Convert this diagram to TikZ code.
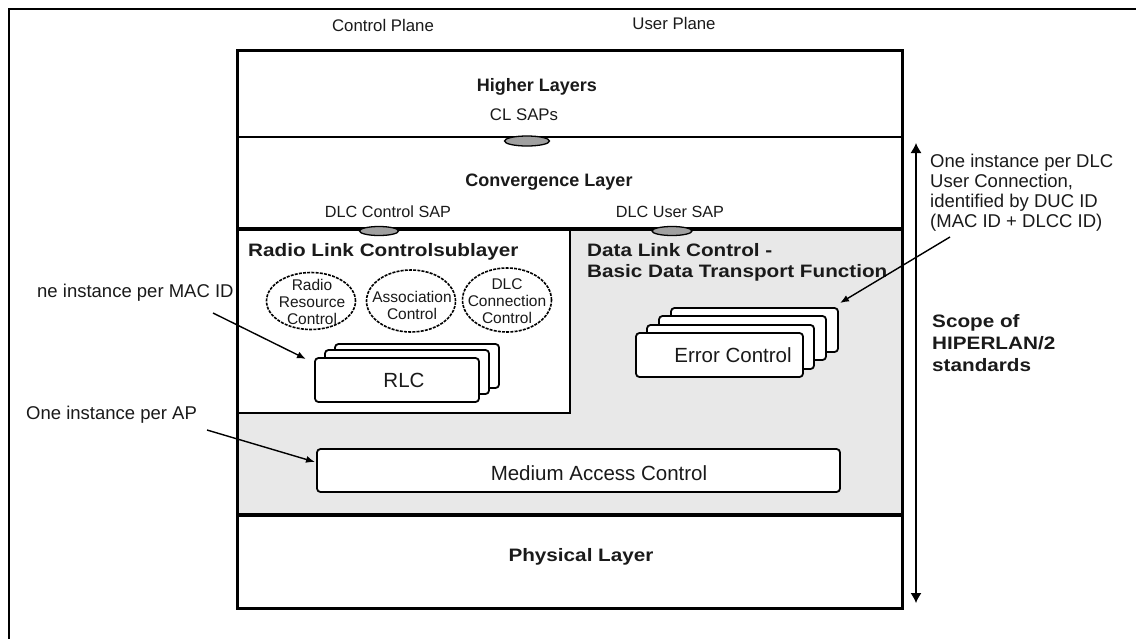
\documentclass[tikz,border=0pt]{standalone}
\usepackage{fontspec}
\setmainfont{Liberation Sans}
\newfontfamily\wideb[FakeStretch=1.15]{Liberation Sans}
\usetikzlibrary{shapes.geometric,arrows.meta}
\definecolor{dlcgray}{HTML}{E8E8E8}
\definecolor{sapgray}{HTML}{A0A0A0}
\definecolor{ink}{HTML}{1A1A1A}
\tikzset{
  txt/.style={inner sep=0, text=ink},
  plane/.style={txt, font=\fontsize{16.8}{19}\selectfont},
  saplbl/.style={txt, font=\fontsize{16.2}{19}\selectfont},
  layerlbl/.style={txt, font=\bfseries\fontsize{18}{21}\selectfont},
  widelbl/.style={txt, font=\wideb\bfseries\fontsize{18}{21.5}\selectfont, align=left},
  annot/.style={txt, font=\fontsize{18.5}{20}\selectfont, align=left},
  boxtxt/.style={txt, font=\fontsize{20.5}{23}\selectfont},
  elltxt/.style={txt, font=\fontsize{15.5}{17}\selectfont, align=center},
  ell/.style={ellipse, draw=black, line width=1.6, dash pattern=on 3pt off 1.2pt, minimum width=89, inner sep=0},
  sap/.style={ellipse, draw=black, fill=sapgray, line width=1.3, inner sep=0},
  stackbox/.style={draw=black, fill=white, rounded corners=3.5, line width=1.8, inner sep=0},
  rlcbox/.style={stackbox, minimum width=164, minimum height=44},
  ecbox/.style={stackbox, minimum width=167, minimum height=44},
  annarrow/.style={-{Latex[length=9,width=7]}, line width=1.4},
  scopearrow/.style={{Latex[length=10,width=11]}-{Latex[length=10,width=11]}, line width=1.2},
}
\begin{document}
\begin{tikzpicture}[x=1pt,y=-1pt]
\useasboundingbox (0,0) rectangle (1136,638);
\fill[white] (0,0) rectangle (1136,638);
% outer frame
\draw[line width=2] (1140,9) -- (9,9) -- (9,642);
% DLC region
\fill[dlcgray] (237,229) rectangle (902,515);
\draw[line width=1.5, fill=white] (237,229) rectangle (570,413);
% layer separators and main box
\draw[line width=1.8] (237,137) -- (902,137);
\draw[line width=4] (237,229) -- (902,229);
\draw[line width=4] (237,515) -- (902,515);
\draw[line width=3] (237,50) rectangle (902,608);

% plane labels
\node[plane] (cp) at (383,25) {Control Plane};
\node[plane] (up) at (674,23) {User Plane};

% higher layers / convergence
\node[layerlbl] (hl) at (537,87) {Higher Layers};
\node[plane] (clsapl) at (524,115) {CL SAPs};
\node[sap, minimum width=45, minimum height=10] (clsap) at (527,141) {};
\node[layerlbl] (cl) at (549,182) {Convergence Layer};
\node[saplbl] (dcsapl) at (388,212) {DLC Control SAP};
\node[saplbl] (dusapl) at (670,212) {DLC User SAP};
\node[sap, minimum width=39, minimum height=9] (dcsap) at (379,231) {};
\node[sap, minimum width=40, minimum height=9] (dusap) at (672,231) {};

% RLC sublayer
\node[widelbl, anchor=west] (rlcs) at (248,252) {Radio Link Controlsublayer};
\node[ell, minimum height=57] (rrc) at (311,301) {};
\node[elltxt] (rrct) at (312,302) {Radio\\Resource\\Control};
\node[ell, minimum height=62] (asc) at (411,301) {};
\node[elltxt] (asct) at (412,305.5) {Association\\Control};
\node[ell, minimum height=64] (dcc) at (507,300) {};
\node[elltxt] (dcct) at (507,301.5) {DLC\\Connection\\Control};

\node[rlcbox] (rlc3) at (417,366) {};
\node[rlcbox] (rlc2) at (407,372) {};
\node[rlcbox] (rlc1) at (397,380) {};
\node[boxtxt] (rlct) at (404,380) {RLC};

% DLC basic data transport
\node[widelbl, anchor=west] (dlcb) at (587,262.5) {Data Link Control -\\Basic Data Transport Function};
\node[ecbox] (ec4) at (754.5,330) {};
\node[ecbox] (ec3) at (742.5,338) {};
\node[ecbox] (ec2) at (730.5,347) {};
\node[ecbox] (ec1) at (719.5,355) {};
\node[boxtxt] (ect) at (733,355) {Error Control};

% MAC
\node[stackbox, minimum width=523, minimum height=43] (mac) at (578.5,470.5) {};
\node[boxtxt] (mact) at (599,473) {Medium Access Control};

% PHY
\node[widelbl] (phy) at (581,557) {Physical Layer};

% scope
\coordinate (st) at (916,143);
\coordinate (sb) at (916,603);
\draw[scopearrow] (st) -- (sb);
\node[widelbl, anchor=west, font=\wideb\bfseries\fontsize{18}{22}\selectfont] (scope) at (932,343) {Scope of\\HIPERLAN/2\\standards};

% annotations
\node[annot, anchor=west] (duc) at (930,193) {One instance per DLC\\User Connection,\\identified by DUC ID\\(MAC ID + DLCC ID)};
\coordinate (ducs) at (950,237);
\coordinate (duce) at (840,303);
\draw[annarrow] (ducs) -- (duce);

\node[annot, anchor=west] (macid) at (37,293) {ne instance per MAC ID};
\coordinate (macs) at (213,313);
\coordinate (mace) at (306,359);
\draw[annarrow] (macs) -- (mace);

\node[annot, anchor=west] (ap) at (26,415) {One instance per AP};
\coordinate (aps) at (207,430);
\coordinate (ape) at (315,462);
\draw[annarrow] (aps) -- (ape);
\end{tikzpicture}
\end{document}
